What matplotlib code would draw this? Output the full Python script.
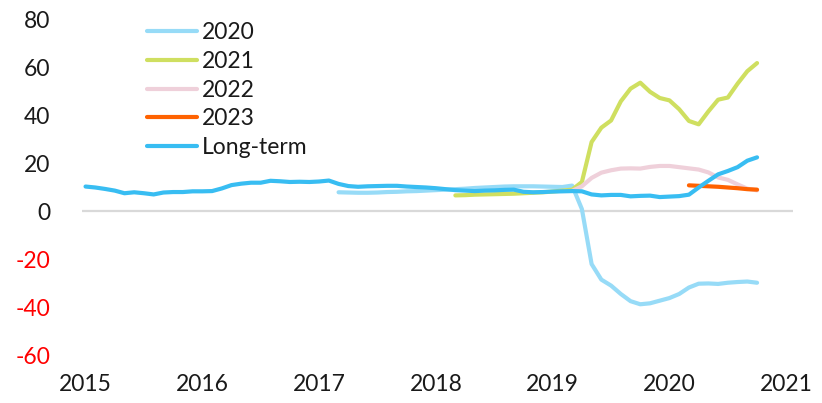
import numpy as np
import matplotlib
matplotlib.use("Agg")
import matplotlib.pyplot as plt

plt.rcParams['font.family'] = ['Lato', 'DejaVu Sans']

# monthly data, month index 0 = Jan 2015
years = [2015, 2016, 2017, 2018, 2019, 2020, 2021]

long_term_start = 0
long_term = [10.4, 10.0, 9.4, 8.7, 7.6, 8.0, 7.6, 7.1, 7.9, 8.1, 8.1, 8.4,
             8.4, 8.5, 9.6, 11.0, 11.6, 12.0, 12.0, 12.8, 12.6, 12.3, 12.4, 12.3,
             12.5, 12.9, 11.5, 10.6, 10.3, 10.5, 10.6, 10.7, 10.7, 10.4, 10.2, 10.0,
             9.7, 9.3, 8.9, 8.7, 8.5, 8.7, 8.8, 9.0, 9.1, 8.2, 8.0, 8.1,
             8.3, 8.4, 8.5, 8.4, 7.1, 6.7, 6.9, 6.9, 6.3, 6.5, 6.6, 6.0,
             6.2, 6.4, 7.0, 10.0, 12.8, 15.5, 16.9, 18.5, 21.2, 22.6]

s2020_start = 26
s2020 = [8.0, 7.9, 7.8, 7.8, 7.9, 8.1, 8.2, 8.4, 8.5, 8.7, 8.9, 9.1,
         9.3, 9.5, 9.8, 10.0, 10.2, 10.4, 10.5, 10.5, 10.5, 10.4, 10.3, 10.2,
         10.8, 1.0, -22.0, -28.5, -31.0, -34.5, -37.5, -38.8, -38.4, -37.3, -36.2, -34.5,
         -31.8, -30.2, -30.1, -30.3, -29.8, -29.5, -29.3, -29.8]

s2021_start = 38
s2021 = [6.7, 6.8, 7.0, 7.1, 7.2, 7.3, 7.4, 7.6, 7.8, 8.0, 8.3, 8.7,
         9.1, 12.3, 29.0, 35.0, 38.0, 46.0, 51.3, 53.8, 50.0, 47.4, 46.4, 42.7,
         37.8, 36.4, 41.8, 46.7, 47.6, 53.4, 58.6, 62.0]

s2022_start = 50
s2022 = [8.6, 10.5, 14.0, 16.2, 17.2, 17.9, 18.0, 17.9, 18.6, 19.0, 19.0, 18.5,
         18.0, 17.5, 16.3, 14.2, 13.2, 11.3, 9.5, 8.8]

s2023_start = 62
s2023 = [10.9, 10.7, 10.5, 10.3, 10.0, 9.7, 9.3, 9.1]

series = [
    ("2020", s2020_start, s2020, "#97dbf7"),
    ("2021", s2021_start, s2021, "#cfdf60"),
    ("2022", s2022_start, s2022, "#efd0da"),
    ("2023", s2023_start, s2023, "#ff6200"),
    ("Long-term", long_term_start, long_term, "#38bdf2"),
]

fig = plt.figure(figsize=(8.22, 4.03), dpi=100)
ax = fig.add_axes([0.0998, 0.1191, 0.865, 0.8313])

ax.axhline(0, color="#d9d9d9", lw=1.6, zorder=1)

for name, start, vals, col in series:
    x = start + np.arange(len(vals))
    ax.plot(x, vals, color=col, lw=3.0, label=name, solid_capstyle="round",
            solid_joinstyle="round", zorder=2)

ax.set_xlim(-0.36, 72.7)
ax.set_ylim(-60, 80)
ax.set_xticks([(y - 2015) * 12 for y in years])
ax.set_xticklabels([str(y) for y in years])
ax.set_yticks(np.arange(-60, 81, 20))
ax.set_yticklabels([str(v) for v in np.arange(-60, 81, 20)])
for lab, v in zip(ax.get_yticklabels(), np.arange(-60, 81, 20)):
    lab.set_color("#ff0000" if v < 0 else "#1a1a1a")
for lab in ax.get_xticklabels():
    lab.set_color("#1a1a1a")

ax.tick_params(axis="both", length=0, labelsize=16.5)
ax.tick_params(axis="y", pad=23)
ax.tick_params(axis="x", pad=14)
for sp in ax.spines.values():
    sp.set_visible(False)

leg = ax.legend(loc="upper left", bbox_to_anchor=(0.159, 0.985), bbox_transform=fig.transFigure,
                frameon=False, fontsize=16.5, handlelength=2.2, handletextpad=0.2,
                labelspacing=0.34, borderpad=0.2)
for t in leg.get_texts():
    t.set_color("#1a1a1a")

fig.savefig("out.png", dpi=100)
